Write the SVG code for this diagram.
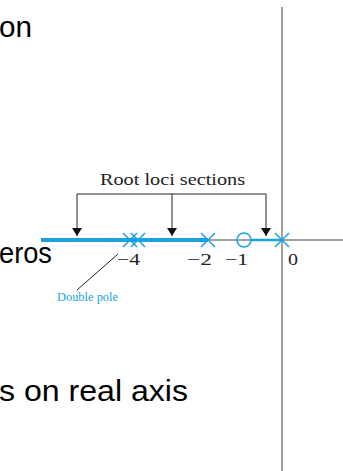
<svg xmlns="http://www.w3.org/2000/svg" width="343" height="471" viewBox="0 0 343 471">
<style>
.big{font-family:"Liberation Sans",Arial,sans-serif;font-size:29px;fill:#000}
.lbl{font-family:"Liberation Serif","Times New Roman",serif;font-size:16px;fill:#222}
.axis{stroke:#444;stroke-width:1;fill:none}
.loc{stroke:#1ba1e2;fill:none}
.pole{stroke:#1ba1e2;stroke-width:1.5;fill:none}
.br{stroke:#222;stroke-width:1;fill:none}
</style>
<defs>
<marker id="ah" viewBox="0 0 8 10" refX="8" refY="5" markerWidth="8" markerHeight="10" markerUnits="userSpaceOnUse" orient="auto">
<path d="M0,0 L8,5 L0,10 Z" fill="#111"/>
</marker>
</defs>
<g id="slide-text">
<text class="big" x="-1" y="37" textLength="33" lengthAdjust="spacingAndGlyphs">on</text>
<text class="big" x="-1" y="263" textLength="53" lengthAdjust="spacingAndGlyphs">eros</text>
<text class="big" x="-1" y="401" textLength="189" lengthAdjust="spacingAndGlyphs">s on real axis</text>
</g>
<g id="axes">
<line class="axis" x1="282" y1="7" x2="282" y2="471"/>
<line class="axis" x1="41" y1="240" x2="343" y2="240"/>
</g>
<g id="locus">
<line class="loc" x1="41" y1="240" x2="208" y2="240" stroke-width="4"/>
<line class="loc" x1="251" y1="240" x2="282" y2="240" stroke-width="2.5"/>
</g>
<g id="poles">
<path class="pole" d="M123,233 L137,247 M123,247 L137,233"/>
<path class="pole" d="M131,233 L145,247 M131,247 L145,233"/>
<path class="pole" d="M201,233 L215,247 M201,247 L215,233"/>
<path class="pole" d="M275,233 L289,247 M275,247 L289,233"/>
</g>
<g id="zero">
<circle class="pole" cx="244" cy="240" r="7" fill="#fff"/>
</g>
<g id="tick-labels">
<text class="lbl" x="117" y="265" textLength="23" lengthAdjust="spacingAndGlyphs">−4</text>
<text class="lbl" x="187" y="265" textLength="25" lengthAdjust="spacingAndGlyphs">−2</text>
<text class="lbl" x="225" y="265" textLength="23" lengthAdjust="spacingAndGlyphs">−1</text>
<text class="lbl" x="288" y="265" textLength="10" lengthAdjust="spacingAndGlyphs">0</text>
</g>
<g id="sections-label">
<text class="lbl" x="100" y="185" textLength="145" lengthAdjust="spacingAndGlyphs">Root loci sections</text>
</g>
<g id="connectors">
<path class="br" d="M77,194 L266,194"/>
<line class="br" x1="77" y1="194" x2="77" y2="236" marker-end="url(#ah)"/>
<line class="br" x1="172" y1="194" x2="172" y2="236" marker-end="url(#ah)"/>
<line class="br" x1="266" y1="194" x2="266" y2="236" marker-end="url(#ah)"/>
<line class="br" x1="118" y1="254" x2="77" y2="290"/>
</g>
<g id="double-pole-label">
<text x="57" y="301" font-family="Liberation Serif,'Times New Roman',serif" font-size="13" fill="#1ba1e2" textLength="61" lengthAdjust="spacingAndGlyphs">Double pole</text>
</g>
</svg>
